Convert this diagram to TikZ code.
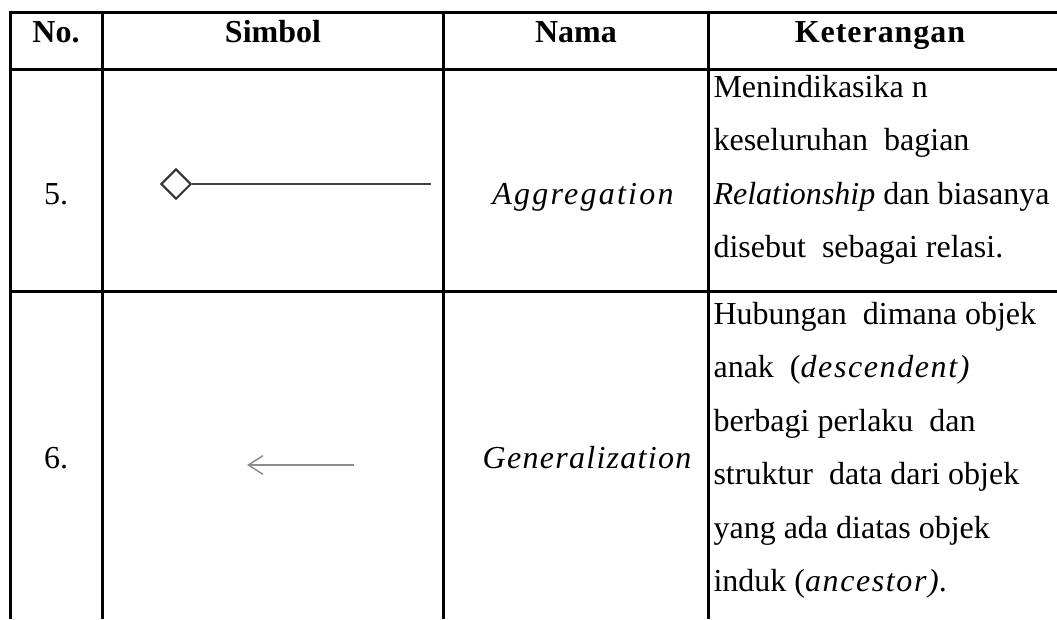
\documentclass[tikz,border=0pt]{standalone}
\usepackage{fontspec}
\setmainfont{Liberation Serif}
\usetikzlibrary{arrows.meta,shapes.geometric}
\tikzset{
  tbl/.style={line width=1.125pt, black},
  hdr/.style={anchor=base, inner sep=0pt, font=\fontsize{12pt}{14pt}\selectfont\bfseries},
  txt/.style={anchor=base west, inner sep=0pt, font=\fontsize{12pt}{14pt}\selectfont},
  ctr/.style={anchor=base, inner sep=0pt, font=\fontsize{12pt}{14pt}\selectfont},
  sym/.style={line width=0.75pt, draw=black!75},
  dia/.style={diamond, draw=black!80, line width=0.75pt, minimum width=11.3pt, minimum height=11.3pt, inner sep=0pt},
  gen/.style={line width=0.55pt, draw=black!45}
}
\begin{document}
\begin{tikzpicture}[x=0.375pt,y=-0.375pt]
\useasboundingbox (0,0) rectangle (1057,619);
% grid
\draw[tbl] (8.5,12) -- (1057,12);
\draw[tbl] (8.5,69) -- (1057,69);
\draw[tbl] (8.5,291) -- (1057,291);
\draw[tbl] (10,10.5) -- (10,619);
\draw[tbl] (102,10.5) -- (102,619);
\draw[tbl] (443,10.5) -- (443,619);
\draw[tbl] (708,10.5) -- (708,619);
% header
\node[hdr] (hno) at (56,42) {No.};
\node[hdr] (hsim) at (273,42) {Simbol};
\node[hdr] (hnam) at (576,42) {Nama};
\node[hdr] (hket) at (880,42) {\addfontfeature{LetterSpace=3}Keterangan};
% row 5
\node[ctr] (n5) at (56,204) {5.};
\node[dia] (dmd) at (176,184) {};
\coordinate (aggend) at (431,184);
\draw[sym] (dmd.east) -- (aggend);
\node[ctr] (agg) at (583,204) {\itshape\addfontfeature{LetterSpace=7}Aggregation};
\node[txt] (k51) at (713,97) {Menindikasika n};
\node[txt] (k52) at (713,150.5) {keseluruhan\ \ bagian};
\node[txt] (k53) at (713,204) {\textit{Relationship} dan biasanya};
\node[txt] (k54) at (713,257.5) {disebut\ \ sebagai relasi.};
% row 6
\node[ctr] (n6) at (56,468) {6.};
\coordinate (genhead) at (247,465);
\coordinate (gentail) at (354,465);
\draw[gen, -{Straight Barb[length=5.5pt, width=7pt, line width=0.55pt]}] (gentail) -- (genhead);
\node[ctr] (gnm) at (587,468) {\itshape\addfontfeature{LetterSpace=4}Generalization};
\node[txt] (k61) at (713,324) {Hubungan\ \ dimana objek};
\node[txt] (k62) at (713,377.5) {anak\ \ (\textit{\addfontfeature{LetterSpace=5}descendent)}};
\node[txt] (k63) at (713,431) {berbagi perlaku\ \ dan};
\node[txt] (k64) at (713,484.5) {struktur\ \ data dari objek};
\node[txt] (k65) at (713,538) {yang ada diatas objek};
\node[txt] (k66) at (713,591.5) {induk (\textit{\addfontfeature{LetterSpace=5}ancestor)}.};
\end{tikzpicture}
\end{document}
